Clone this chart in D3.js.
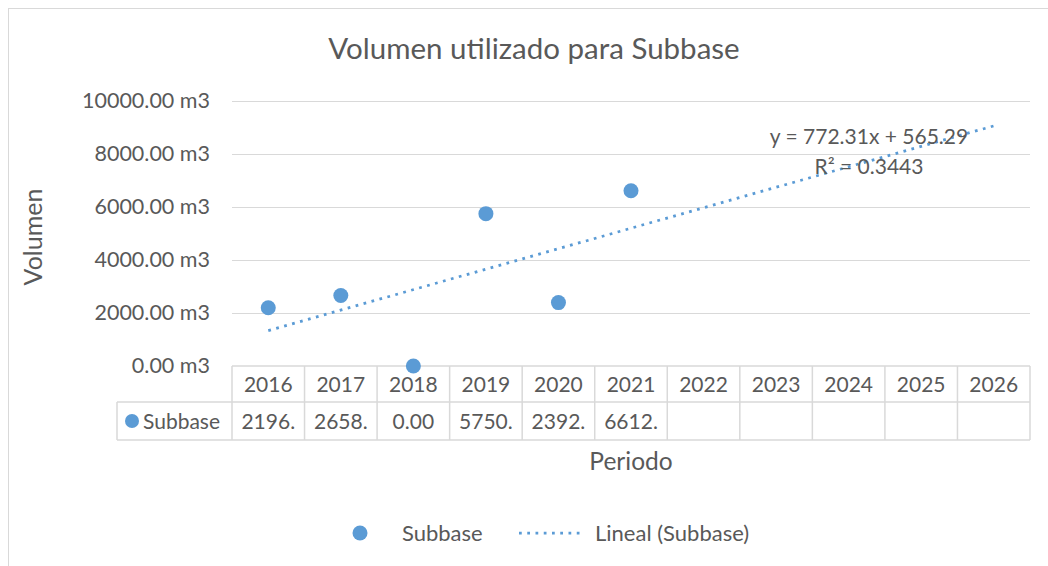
<!DOCTYPE html>
<html>
<head>
<meta charset="utf-8">
<script src="https://cdn.jsdelivr.net/npm/d3@7"></script>
<style>
  html, body { margin: 0; padding: 0; background: #fff; }
  svg { display: block; font-family: Lato, "Open Sans", sans-serif; }
</style>
</head>
<body>
<div id="chart"></div>
<script>
// ---- データ ----
const periods = ["2016", "2017", "2018", "2019", "2020", "2021", "2022", "2023", "2024", "2025", "2026"];
const subbase = [2196, 2658, 0, 5750, 2392, 6612];
const yTicks = [0, 2000, 4000, 6000, 8000, 10000];
const trend = { slope: 772.31, intercept: 565.29, r2: 0.3443 };

// ---- 設定 ----
const width = 1048, height = 566;
const textColor = "#595959";
const gridColor = "#d9d9d9";
const blue = "#5b9bd5";

const plot = { left: 232, right: 1030, top: 101, bottom: 366 };
const rowHead = 36, rowData = 38;   // テーブルの行の高さ
const tableLeft = 117;

const svg = d3.select("#chart").append("svg")
  .attr("width", width).attr("height", height);

// 外枠
svg.append("rect")
  .attr("x", 8.5).attr("y", 8.5)
  .attr("width", 1100).attr("height", 600)
  .attr("fill", "none").attr("stroke", gridColor);

const x = d3.scaleBand().domain(periods).range([plot.left, plot.right]);
const y = d3.scaleLinear().domain([0, 10000]).range([plot.bottom, plot.top]);

// タイトル
svg.append("text")
  .attr("x", 534).attr("y", 59)
  .attr("text-anchor", "middle")
  .attr("font-size", 29.5)
  .attr("fill", textColor)
  .text("Volumen utilizado para Subbase");

// 横の目盛線
svg.append("g")
  .selectAll("line")
  .data(yTicks.filter(d => d > 0))
  .join("line")
    .attr("x1", plot.left).attr("x2", plot.right)
    .attr("y1", d => Math.round(y(d)) + 0.5).attr("y2", d => Math.round(y(d)) + 0.5)
    .attr("stroke", gridColor).attr("stroke-width", 1);

// Y軸ラベル
const yAxis = svg.append("g")
  .attr("transform", `translate(${plot.left - 22},0)`)
  .call(d3.axisLeft(y).tickValues(yTicks).tickSize(0).tickPadding(0)
    .tickFormat(d => d3.format(".2f")(d) + " m3"));
yAxis.select(".domain").remove();
yAxis.selectAll("text")
  .attr("font-size", 21.5)
  .attr("fill", textColor)
  .attr("font-family", "Lato, sans-serif");

// 軸タイトル
svg.append("text")
  .attr("transform", "translate(42,237) rotate(-90)")
  .attr("text-anchor", "middle")
  .attr("font-size", 25)
  .attr("fill", textColor)
  .text("Volumen");

svg.append("text")
  .attr("x", 631).attr("y", 470)
  .attr("text-anchor", "middle")
  .attr("font-size", 24.5)
  .attr("fill", textColor)
  .text("Periodo");

// ---- データテーブル ----
const t0 = plot.bottom, t1 = t0 + rowHead, t2 = t1 + rowData;
const table = svg.append("g")
  .attr("stroke", gridColor).attr("stroke-width", 1.5);

[[plot.left, t0], [tableLeft, t1], [tableLeft, t2]].forEach(([xs, yy]) => {
  table.append("line")
    .attr("x1", xs).attr("x2", plot.right)
    .attr("y1", yy).attr("y2", yy);
});
table.selectAll(".vline")
  .data(periods.concat(["end"]))
  .join("line")
    .attr("x1", (d, i) => plot.left + i * x.bandwidth())
    .attr("x2", (d, i) => plot.left + i * x.bandwidth())
    .attr("y1", t0).attr("y2", t2);
table.append("line")
  .attr("x1", tableLeft).attr("x2", tableLeft)
  .attr("y1", t1).attr("y2", t2);

// 年
svg.append("g")
  .selectAll("text")
  .data(periods)
  .join("text")
    .attr("x", d => x(d) + x.bandwidth() / 2)
    .attr("y", t0 + 26)
    .attr("text-anchor", "middle")
    .attr("font-size", 21)
    .attr("fill", textColor)
    .text(d => d);

// 値（セル幅に収まらない分は切り捨て）
const cells = svg.append("g")
  .selectAll("text")
  .data(subbase)
  .join("text")
    .attr("x", (d, i) => x(periods[i]) + x.bandwidth() / 2)
    .attr("y", t1 + 27)
    .attr("text-anchor", "middle")
    .attr("font-size", 21)
    .attr("fill", textColor)
    .text(d => d3.format(".2f")(d));
cells.each(function () {
  const el = d3.select(this);
  let s = el.text();
  while (this.getComputedTextLength() > x.bandwidth() - 14 && s.length > 1) {
    s = s.slice(0, -1);
    el.text(s);
  }
});

// 凡例キー（テーブル内）
svg.append("circle")
  .attr("cx", 132).attr("cy", t1 + 19).attr("r", 7)
  .attr("fill", blue);
svg.append("text")
  .attr("x", 143).attr("y", t1 + 27)
  .attr("font-size", 21)
  .attr("fill", textColor)
  .text("Subbase");

// ---- 近似直線 ----
const xi = i => x(periods[i]) + x.bandwidth() / 2;
const trendLine = d3.line()
  .x(d => xi(d))
  .y(d => y(trend.slope * (d + 1) + trend.intercept));
svg.append("path")
  .datum([0, periods.length - 1])
  .attr("d", trendLine)
  .attr("fill", "none")
  .attr("stroke", blue)
  .attr("stroke-width", 2.75)
  .attr("stroke-dasharray", "2.75 5.5");

// ---- 散布点 ----
svg.append("g")
  .selectAll("circle")
  .data(subbase)
  .join("circle")
    .attr("cx", (d, i) => xi(i))
    .attr("cy", d => y(d))
    .attr("r", 7.5)
    .attr("fill", blue);

// 式ラベル
svg.append("text")
  .attr("x", 869).attr("y", 144)
  .attr("text-anchor", "middle")
  .attr("font-size", 21)
  .attr("fill", textColor)
  .text(`y = ${trend.slope}x + ${trend.intercept}`);
svg.append("text")
  .attr("x", 869).attr("y", 174)
  .attr("text-anchor", "middle")
  .attr("font-size", 21)
  .attr("fill", textColor)
  .text(`R² = ${trend.r2}`);

// ---- 凡例 ----
const legend = svg.append("g").attr("transform", "translate(0,533)");
legend.append("circle")
  .attr("cx", 360).attr("cy", 0).attr("r", 7.5)
  .attr("fill", blue);
legend.append("text")
  .attr("x", 402).attr("y", 8)
  .attr("font-size", 22)
  .attr("fill", textColor)
  .text("Subbase");
legend.append("line")
  .attr("x1", 519).attr("x2", 584)
  .attr("y1", 0).attr("y2", 0)
  .attr("stroke", blue)
  .attr("stroke-width", 2.75)
  .attr("stroke-dasharray", "2.75 5.5");
legend.append("text")
  .attr("x", 595).attr("y", 8)
  .attr("font-size", 22)
  .attr("fill", textColor)
  .text("Lineal (Subbase)");
</script>
</body>
</html>
